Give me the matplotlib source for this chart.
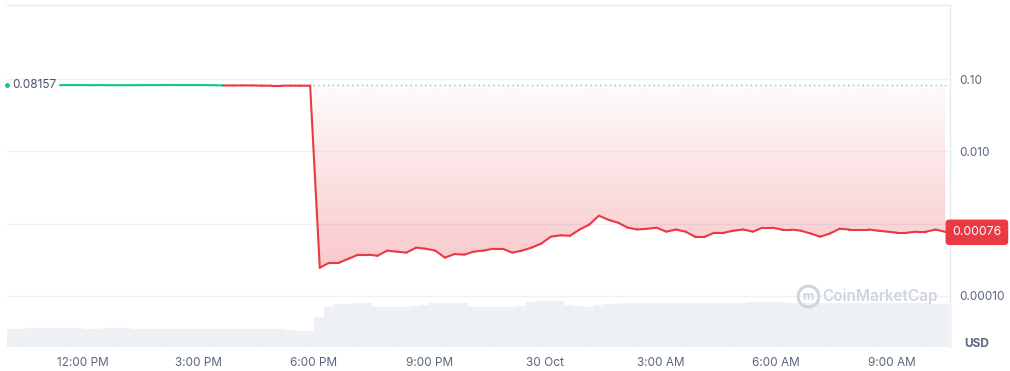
import numpy as np
import matplotlib
matplotlib.use('Agg')
import matplotlib.pyplot as plt
from matplotlib.collections import LineCollection
from matplotlib.patches import Polygon
import matplotlib.transforms as mtransforms

plt.rcParams['font.family'] = ['Inter', 'DejaVu Sans']

# hours relative to 12:00 PM, 15 minute steps
open_price = 0.08157
last_price = 0.00076
price_start = -0.6
vol_start = -2.0

prices = [
    0.0824, 0.0826, 0.0825, 0.0823, 0.0824, 0.0822, 0.0821, 0.0822, 0.0823,
    0.0824, 0.0825, 0.0826, 0.0826, 0.0825, 0.0826, 0.0824, 0.0822,
    0.0815, 0.0814, 0.0816, 0.0815,
    0.0810, 0.0809, 0.0809, 0.0810, 0.0809, 0.0808,
    0.000246, 0.000289, 0.000289, 0.000328, 0.000373, 0.000373, 0.000360,
    0.000424, 0.000410, 0.000397, 0.000466, 0.000450, 0.000424, 0.000339,
    0.000380, 0.000373, 0.000410, 0.000424, 0.000450, 0.000450, 0.000397,
    0.000424, 0.000466, 0.000529, 0.000660, 0.000690, 0.000680, 0.000830,
    0.000970, 0.001290, 0.001130, 0.001030, 0.000880, 0.000830, 0.000850,
    0.000880, 0.000775, 0.000830, 0.000775, 0.000660, 0.000660, 0.000750,
    0.000750, 0.000800, 0.000830, 0.000775, 0.000880, 0.000880, 0.000830,
    0.000830, 0.000800, 0.000730, 0.000660, 0.000730, 0.000850, 0.000830,
    0.000830, 0.000830, 0.000800, 0.000775, 0.000750, 0.000750, 0.000775,
    0.000775, 0.000830, 0.000770,
]

# volume, thousand USD per 15 minutes
volumes = [
    1800, 1850, 1880, 1880, 1880, 1880, 1870, 1860, 1850, 1850, 1880, 1900,
    1880, 1850, 1830, 1830, 1830, 1830, 1830, 1830, 1830, 1830, 1830, 1830,
    1830, 1830, 1820, 1800, 1780, 1700, 1650, 1600,
    3000, 4000, 4300, 4350, 4400, 4420, 4000, 4000, 4020, 4050, 4080, 4250,
    4430, 4430, 4430, 4400, 4020, 4020, 4000, 4020, 4030, 4100, 4550, 4600,
    4600, 4580, 4250, 4100, 4050, 4200, 4300, 4320, 4370, 4360, 4380, 4370,
    4360, 4370, 4380, 4360, 4370, 4360, 4370, 4380, 4400, 4480, 4530, 4530,
    4520, 4440, 4430, 4430, 4440, 4430, 4420, 4430, 4440, 4430, 4420, 4430,
    4420, 4400, 4400, 4380, 4350, 4300,
]

tick_hours = [0, 3, 6, 9, 12, 15, 18, 21]
tick_labels = ['12:00 PM', '3:00 PM', '6:00 PM', '9:00 PM', '30 Oct',
               '3:00 AM', '6:00 AM', '9:00 AM']

green = '#16c784'
red = '#ea3943'
grey_txt = '#58667e'
grid_col = '#eff2f5'

t = price_start + 0.25 * np.arange(len(prices))
p = np.array(prices)
tv = vol_start + 0.25 * np.arange(len(volumes))

fig = plt.figure(figsize=(10.1, 3.71), dpi=100)
ax = fig.add_axes([7/1010, 24/371, 943/1010, 342/371])
ax.set_yscale('log')
xlim = (-1.974, 22.52)
ylim = (1.97e-5, 1.056)

# volume on a twin axis
axv = ax.twinx()
axv.bar(tv, volumes, width=0.25, align='edge', color='#edf0f4',
        edgecolor='#f7f8fa', linewidth=0.3, zorder=1)
axv.set_ylim(0, 34200)
axv.set_xlim(*xlim)
axv.axis('off')
ax.set_zorder(axv.get_zorder() + 1)
ax.patch.set_visible(False)

# gradient fill between the open price and the line
poly_pts = [(t[0], open_price)] + list(zip(t, np.minimum(p, open_price))) + [(t[-1], open_price)]
clip = Polygon(poly_pts, closed=True, transform=ax.transData, fc='none', ec='none')
ax.add_patch(clip)
grad = np.zeros((256, 1, 4))
grad[:, 0, :3] = matplotlib.colors.to_rgb(red)
fr = np.linspace(1, 0, 256)  # top -> bottom of axes
a = np.clip((0.77 - fr) / (0.77 - 0.22), 0, 1)
grad[:, 0, 3] = 0.02 + 0.26 * a
im = ax.imshow(grad, extent=[0, 1, 0, 1], transform=ax.transAxes,
               aspect='auto', zorder=1, interpolation='bilinear')
im.set_clip_path(clip)

# grid lines
for g in [0.1, 0.01, 0.001, 0.0001]:
    ax.axhline(g, color=grid_col, lw=1, zorder=0.5)

# open price dotted line
ax.hlines(open_price, t[0], xlim[1], colors='#a6b0c3', linestyles=(0, (1, 2.5)),
          lw=1, zorder=2)

# price line, green above open, red below
pts = np.column_stack([t, p])
segs = np.stack([pts[:-1], pts[1:]], axis=1)
mids = (p[:-1] + p[1:]) / 2
cols = [green if m >= open_price else red for m in mids]
lc = LineCollection(segs, colors=cols, linewidths=1.5, zorder=3,
                    capstyle='round', joinstyle='round')
ax.add_collection(lc)

ax.set_xlim(*xlim)
ax.set_ylim(*ylim)

ax.yaxis.tick_right()
ax.set_yticks([0.1, 0.01, 0.001, 0.0001])
ax.set_yticklabels(['0.10', '0.010', '', '0.00010'])
ax.yaxis.set_minor_locator(matplotlib.ticker.NullLocator())
ax.tick_params(axis='y', length=0, pad=7, labelsize=8.5, labelcolor=grey_txt)
ax.set_xticks(tick_hours)
ax.set_xticklabels(tick_labels)
ax.tick_params(axis='x', length=0, pad=7, labelsize=8.5, labelcolor=grey_txt)

for s in ['left', 'bottom']:
    ax.spines[s].set_visible(False)
for s in ['top', 'right']:
    ax.spines[s].set_color('#e6e9ee')
    ax.spines[s].set_linewidth(1)

# open price label at the left
ax.plot([xlim[0]], [open_price], 'o', ms=2.5, color=green, clip_on=False, zorder=5)
trans = mtransforms.blended_transform_factory(ax.transAxes, ax.transData)
ax.text(0.0055, open_price, '0.08157', transform=trans, va='center', ha='left',
        fontsize=8.5, color='#4a5468', zorder=5)

# last price badge
ax.text(1.0285, last_price, '0.00076', transform=trans, va='center', ha='center',
        fontsize=8.8, color='white', zorder=6,
        bbox=dict(boxstyle='round,pad=0.55,rounding_size=0.3', fc=red, ec='none'))

# currency
ax.text(1.0285, 0.01, 'USD', transform=ax.transAxes, va='center', ha='center',
        fontsize=8.5, fontweight='bold', color=grey_txt)

# watermark
ax.plot([0.849], [0.148], 'o', ms=15, mfc='none', mec='#cfd5de', mew=2.2,
        transform=ax.transAxes, zorder=2, clip_on=False)
ax.text(0.849, 0.145, 'm', transform=ax.transAxes, va='center', ha='center',
        fontsize=9, fontweight='bold', color='#cfd5de', zorder=2)
ax.text(0.865, 0.148, 'CoinMarketCap', transform=ax.transAxes, va='center',
        ha='left', fontsize=11, fontweight='semibold', color='#cfd5de', zorder=2)

fig.savefig('out.png', dpi=100)
